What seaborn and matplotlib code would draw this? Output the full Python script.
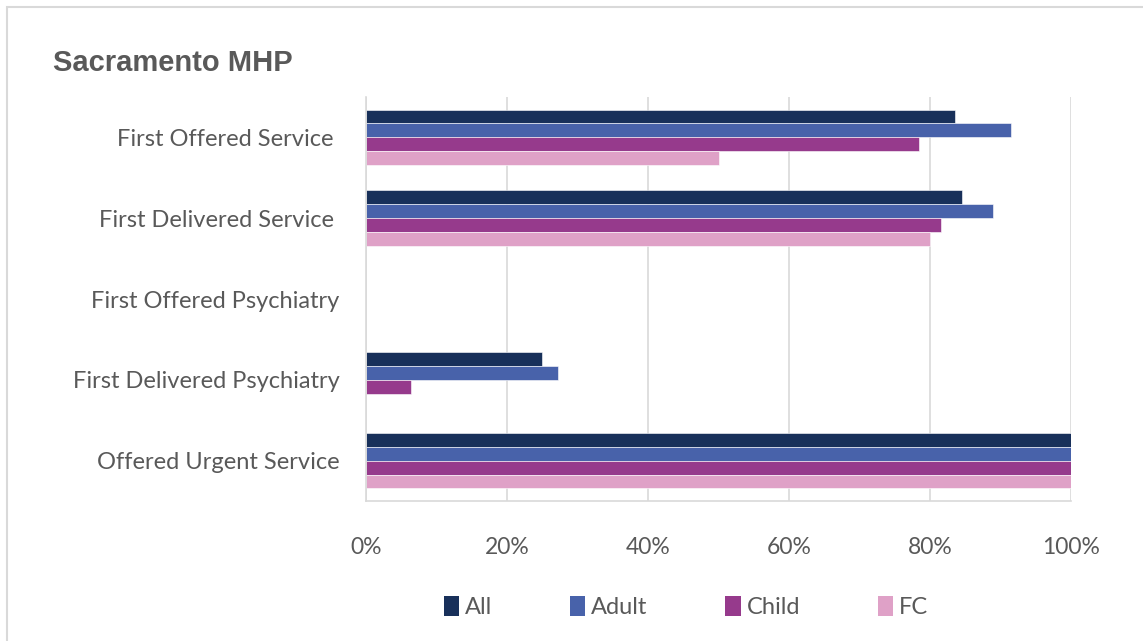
import numpy as np
import pandas as pd
import matplotlib
matplotlib.use("Agg")
import matplotlib.pyplot as plt
from matplotlib.patches import Rectangle, Patch
from matplotlib.ticker import FuncFormatter
import seaborn as sns

# Timeliness measures (share of cases meeting standard), by population
measures = [
    "First Offered Service ",
    "First Delivered Service ",
    "First Offered Psychiatry",
    "First Delivered Psychiatry",
    "Offered Urgent Service",
]
groups = ["All", "Adult", "Child", "FC"]
all_vals = [83.6, 84.6, np.nan, 25.0, 100.0]
adult_vals = [91.5, 88.9, np.nan, 27.2, 100.0]
child_vals = [78.5, 81.5, np.nan, 6.4, 100.0]
fc_vals = [50.0, 80.0, np.nan, np.nan, 100.0]

colors = ["#18305A", "#4862AA", "#963A8C", "#DFA1C7"]

df = pd.DataFrame({
    "Measure": measures * 4,
    "Group": [g for g in groups for _ in measures],
    "Value": all_vals + adult_vals + child_vals + fc_vals,
})

sns.set_theme(style="white")
plt.rcParams["font.family"] = ["Lato", "DejaVu Sans"]

fig = plt.figure(figsize=(11.43, 6.41), dpi=100)
ax = fig.add_axes([366 / 1143, 1 - 501 / 641, (1071 - 366) / 1143, (501 - 97) / 641])

sns.barplot(
    data=df, y="Measure", x="Value", hue="Group",
    order=measures, hue_order=groups, palette=colors,
    orient="h", width=0.69, saturation=1, ax=ax,
    edgecolor="white", linewidth=0.4, legend=False,
)

ax.set_xlim(0, 100)
ax.set_xticks([0, 20, 40, 60, 80, 100])
ax.xaxis.set_major_formatter(FuncFormatter(lambda v, p: f"{v:.0f}%"))
ax.grid(axis="x", color="#D9D9D9", linewidth=1.2)
ax.set_axisbelow(True)
ax.set_xlabel("")
ax.set_ylabel("")
for side in ["top", "right"]:
    ax.spines[side].set_visible(False)
for side in ["left", "bottom"]:
    ax.spines[side].set_color("#D9D9D9")
    ax.spines[side].set_linewidth(1.2)
ax.tick_params(axis="both", length=0, labelcolor="#595959")
ax.tick_params(axis="y", labelsize=17, pad=19)
ax.tick_params(axis="x", labelsize=16.5, pad=26)

fig.text(53 / 1143, 1 - 63 / 641, "Sacramento MHP", fontsize=21, fontweight="bold",
         color="#595959", family=["Liberation Sans", "DejaVu Sans"], va="center", ha="left")

handles = [Patch(facecolor=c, edgecolor="none") for c in colors]
fig.legend(handles, groups, loc="center", bbox_to_anchor=(686 / 1143, 1 - 607 / 641),
           ncol=4, frameon=False, fontsize=17, labelcolor="#595959",
           handlelength=0.64, handleheight=0.9, handletextpad=0.25, columnspacing=3.3)

fig.patches.append(Rectangle((7 / 1143, -0.1), 1.2, 1 - 7 / 641 + 0.1, transform=fig.transFigure,
                             fill=False, edgecolor="#D9D9D9", linewidth=1.5))

fig.savefig("out.png", dpi=100)
